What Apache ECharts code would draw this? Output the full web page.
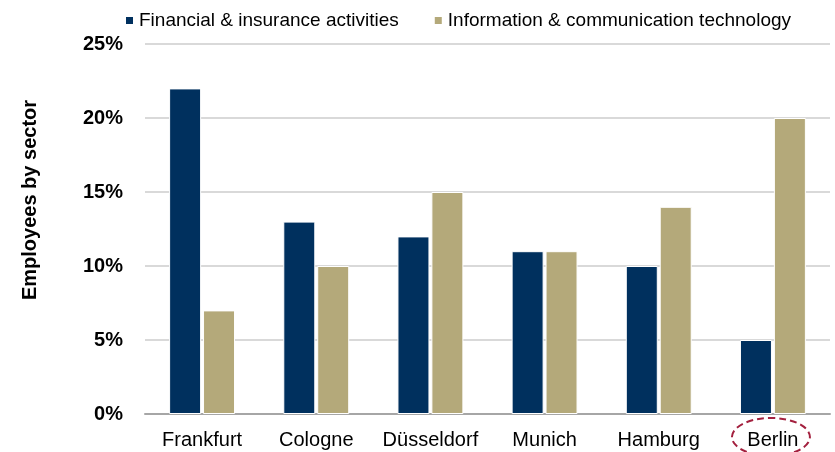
<!DOCTYPE html>
<html>
<head>
<meta charset="utf-8">
<script src="https://cdn.jsdelivr.net/npm/echarts@6/dist/echarts.min.js"></script>
<style>html,body{margin:0;padding:0;background:#fff;}</style>
</head>
<body>
<div id="main" style="width:835px;height:452px;"></div>
<script>
var cities = ['Frankfurt', 'Cologne', 'Düsseldorf', 'Munich', 'Hamburg', 'Berlin'];
var finance = [22, 13, 12, 11, 10, 5];
var ict = [7, 10, 15, 11, 14, 20];
var seriesNames = ['Financial & insurance activities', 'Information & communication technology'];

var chart = echarts.init(document.getElementById('main'));
var font = 'Liberation Sans, Arial, sans-serif';

chart.setOption({
  animation: false,
  textStyle: { fontFamily: font },
  legend: {
    top: 6,
    left: 119,
    itemWidth: 9,
    itemHeight: 9,
    itemGap: 34,
    icon: 'rect',
    textStyle: { fontSize: 19, color: '#000', fontFamily: font }
  },
  grid: { left: 145, right: 5, top: 44, bottom: 38 },
  xAxis: {
    type: 'category',
    data: cities,
    axisTick: { show: false },
    axisLine: { lineStyle: { color: '#a6a6a6', width: 2 } },
    axisLabel: { fontSize: 20, color: '#000', margin: 16, interval: 0 }
  },
  yAxis: {
    type: 'value',
    min: 0, max: 25, interval: 5,
    axisLabel: { fontSize: 20, fontWeight: 'bold', color: '#000', margin: 22, formatter: '{value}%' },
    splitLine: { lineStyle: { color: '#d9d9d9', width: 2 } }
  },
  series: [
    { name: seriesNames[0], type: 'bar', data: finance, barWidth: 32, barGap: '6%',
      itemStyle: { color: '#00305e', borderColor: '#fff', borderWidth: 1 } },
    { name: seriesNames[1], type: 'bar', data: ict, barWidth: 32,
      itemStyle: { color: '#b4a97a', borderColor: '#fff', borderWidth: 1 } }
  ]
});

var bx = chart.convertToPixel({ xAxisIndex: 0 }, 'Berlin');
chart.setOption({
  graphic: [
    {
      type: 'text',
      x: 30, y: 200,
      rotation: Math.PI / 2,
      style: {
        text: 'Employees by sector', font: 'bold 20px ' + font, fill: '#000',
        align: 'center', verticalAlign: 'middle'
      }
    },
    {
      type: 'ellipse',
      shape: { cx: bx - 2, cy: 437, rx: 39, ry: 19 },
      style: { fill: 'none', stroke: '#a3203e', lineWidth: 2, lineDash: [7, 4] }
    }
  ]
});
</script>
</body>
</html>
